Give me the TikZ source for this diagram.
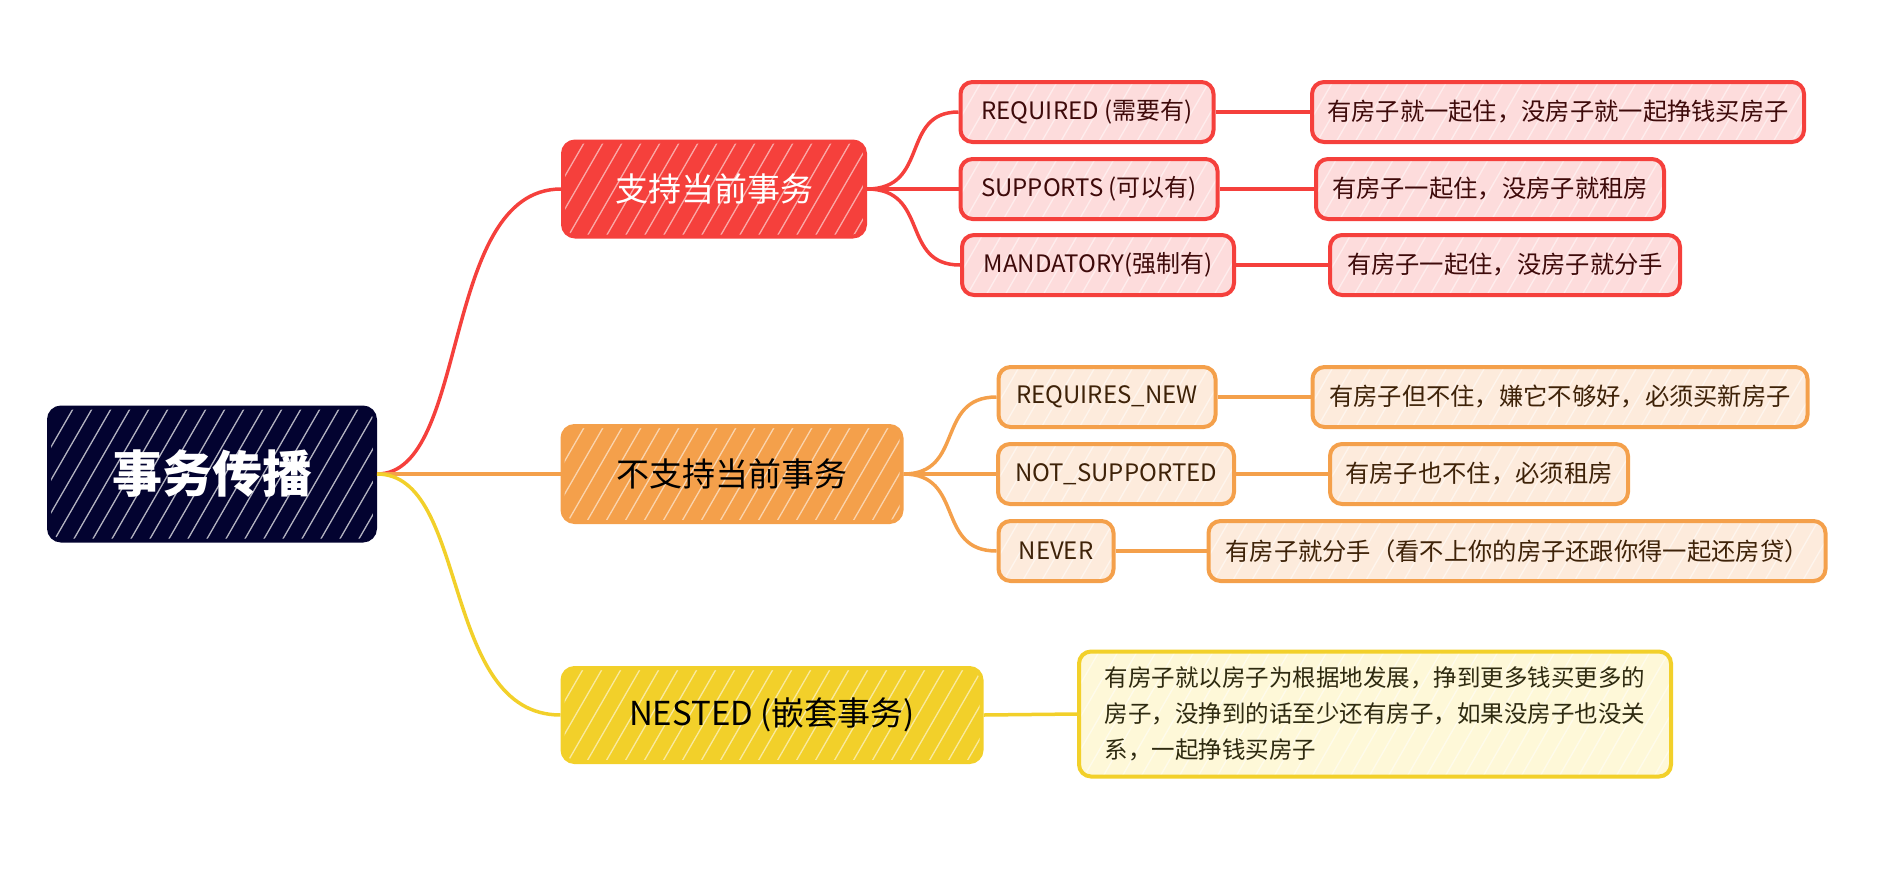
\documentclass[tikz,border=0pt]{standalone}
\usepackage{fontspec}
\setmainfont{Noto Sans CJK SC}
\usetikzlibrary{calc}
\definecolor{cred}{HTML}{F5403C}
\definecolor{lred}{HTML}{FDDCDC}
\definecolor{tred}{HTML}{3E0A0A}
\definecolor{cora}{HTML}{F4A04B}
\definecolor{lora}{HTML}{FDEBDC}
\definecolor{tora}{HTML}{3E2208}
\definecolor{cyel}{HTML}{F2D02A}
\definecolor{lyel}{HTML}{FEF8D8}
\definecolor{tyel}{HTML}{2E2A10}
\definecolor{navy}{HTML}{030330}
\tikzset{
  hatch/.style={path picture={
    \foreach \i in {0,...,40}{
      \draw[white, opacity=#1, line width=1.3pt]
        ($(path picture bounding box.south west)+(\i*19pt-90pt,0)$) -- ++(60:160pt);
    }}},
  box/.style={rounded corners=12pt, line width=4pt, inner sep=0pt, align=center},
  rootbox/.style={box, fill=navy, draw=navy, text=white, hatch=0.7,
    font=\fontsize{50}{54}\selectfont\bfseries},
  lone/.style={box, fill=#1, draw=#1, hatch=0.55, font=\fontsize{33}{36}\selectfont},
  ltwo/.style={box, hatch=0.5, font=\fontsize{24}{28}\selectfont, minimum height=60pt},
  leaf/.style={ltwo, font=\fontsize{24.3}{28}\selectfont},
  link/.style={line width=3.5pt},
}
\begin{document}
\begin{tikzpicture}[x=1pt,y=-1pt]
\useasboundingbox (0,0) rectangle (1894,868);
% root
\node[rootbox, minimum width=326pt, minimum height=133pt] (root) at (212,474) {事务传播};
% level 1
\node[lone=cred, text=white, minimum width=302pt, minimum height=95pt] (sup) at (714,189) {支持当前事务};
\node[lone=cora, text=black, minimum width=339pt, minimum height=96pt] (nsup) at (732,474) {不支持当前事务};
\node[lone=cyel, text=black, minimum width=419pt, minimum height=94pt] (nest) at (772,715) {NESTED (嵌套事务)};
% red level 2
\node[ltwo, fill=lred, draw=cred, text=tred, minimum width=253pt] (req) at (1087,112) {REQUIRED (需要有)};
\node[ltwo, fill=lred, draw=cred, text=tred, minimum width=257pt] (supp) at (1089,189) {SUPPORTS (可以有)};
\node[ltwo, fill=lred, draw=cred, text=tred, minimum width=272pt] (mand) at (1098,265) {MANDATORY(强制有)};
\node[leaf, fill=lred, draw=cred, text=tred, minimum width=492pt] (reqt) at (1558,112) {有房子就一起住，没房子就一起挣钱买房子};
\node[leaf, fill=lred, draw=cred, text=tred, minimum width=348pt] (suppt) at (1490,189) {有房子一起住，没房子就租房};
\node[leaf, fill=lred, draw=cred, text=tred, minimum width=350pt] (mandt) at (1505,265) {有房子一起住，没房子就分手};
% orange level 2
\node[ltwo, fill=lora, draw=cora, text=tora, minimum width=217pt] (rnew) at (1107,397) {REQUIRES\_NEW};
\node[ltwo, fill=lora, draw=cora, text=tora, minimum width=236pt] (nots) at (1116,474) {NOT\_SUPPORTED};
\node[ltwo, fill=lora, draw=cora, text=tora, minimum width=115pt] (never) at (1056,551) {NEVER};
\node[leaf, fill=lora, draw=cora, text=tora, minimum width=495pt] (rnewt) at (1560,397) {有房子但不住，嫌它不够好，必须买新房子};
\node[leaf, fill=lora, draw=cora, text=tora, minimum width=298pt] (notst) at (1479,474) {有房子也不住，必须租房};
\node[leaf, fill=lora, draw=cora, text=tora, minimum width=617pt] (nevert) at (1517,551) {有房子就分手（看不上你的房子还跟你得一起还房贷）};
% yellow leaf
\node[ltwo, fill=lyel, draw=cyel, text=tyel, minimum width=592pt, minimum height=125pt, align=left,
  font=\fontsize{23.5}{36}\selectfont] (nestt) at (1375,714)
  {有房子就以房子为根据地发展，挣到更多钱买更多的\\房子，没挣到的话至少还有房子，如果没房子也没关\\系，一起挣钱买房子};
% connectors root -> level 1
\draw[link, cred] (root.east) .. controls (470,474) and (440,189) .. (sup.west);
\draw[link, cora] (root.east) -- (nsup.west);
\draw[link, cyel] (root.east) .. controls (470,474) and (440,715) .. (nest.west);
% red
\draw[link, cred] (sup.east) .. controls (930,189) and (900,112) .. (req.west);
\draw[link, cred] (sup.east) -- (supp.west);
\draw[link, cred] (sup.east) .. controls (930,189) and (900,265) .. (mand.west);
\draw[link, cred] (req.east) -- (reqt.west);
\draw[link, cred] (supp.east) -- (suppt.west);
\draw[link, cred] (mand.east) -- (mandt.west);
% orange
\draw[link, cora] (nsup.east) .. controls (965,474) and (935,397) .. (rnew.west);
\draw[link, cora] (nsup.east) -- (nots.west);
\draw[link, cora] (nsup.east) .. controls (965,474) and (935,551) .. (never.west);
\draw[link, cora] (rnew.east) -- (rnewt.west);
\draw[link, cora] (nots.east) -- (notst.west);
\draw[link, cora] (never.east) -- (nevert.west);
% yellow
\draw[link, cyel] (nest.east) -- (nestt.west);
\end{tikzpicture}
\end{document}
